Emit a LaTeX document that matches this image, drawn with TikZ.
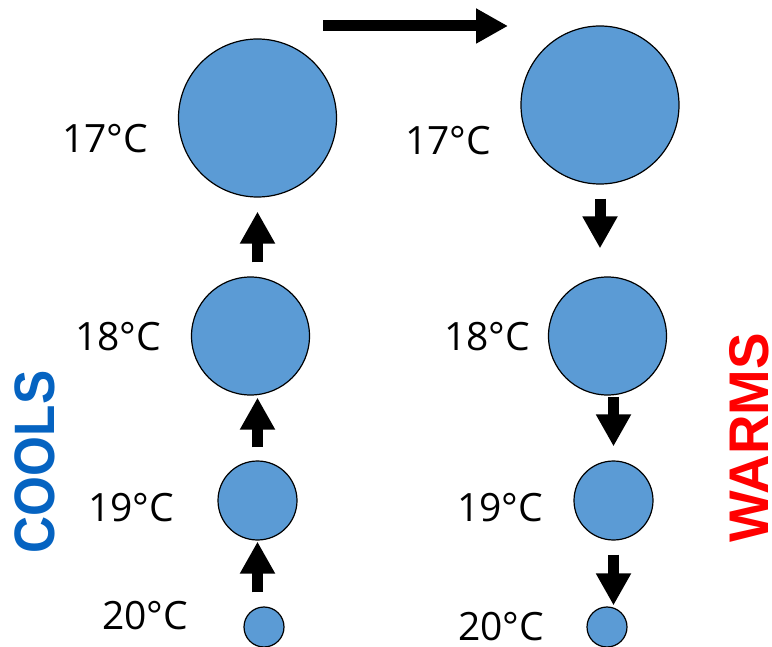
\documentclass[tikz,border=0pt]{standalone}
\usepackage{fontspec}
\setmainfont{Open Sans}
\newfontfamily\boldsans{Liberation Sans}
\usetikzlibrary{arrows.meta}
\definecolor{bubble}{HTML}{5B9BD5}
\definecolor{coolblue}{HTML}{0563C1}
\definecolor{warmred}{HTML}{FF0000}
\begin{document}
\begin{tikzpicture}[x=1pt, y=-1pt,
    bub/.style = {circle, draw=black, line width=1.2pt, fill=bubble, inner sep=0pt},
    temp/.style = {inner sep=0pt, font=\fontsize{39}{39}\selectfont},
    blockarrow/.style = {line width=11pt, -{Triangle[length=32pt,width=33pt]}},
    side/.style = {inner sep=0pt, rotate=90, font=\boldsans\bfseries\fontsize{57}{57}\selectfont}]
    \useasboundingbox (0,0) rectangle (772,647);

    % Circles, left column
    \node (c17l) at (257.5,118) [bub, minimum size=158pt]{};
    \node (c18l) at (250.5,336) [bub, minimum size=118pt]{};
    \node (c19l) at (257.5,500.5) [bub, minimum size=79pt]{};
    \node (c20l) at (264,627) [bub, minimum size=40pt]{};

    % Circles, right column
    \node (c17r) at (600,105) [bub, minimum size=158pt]{};
    \node (c18r) at (607.5,336) [bub, minimum size=118pt]{};
    \node (c19r) at (613.5,500.5) [bub, minimum size=79pt]{};
    \node (c20r) at (607,627) [bub, minimum size=40pt]{};

    % Labels
    \node (t17l) at (105,139) [temp]{17°C};
    \node (t18l) at (118,337) [temp]{18°C};
    \node (t19l) at (131,508) [temp]{19°C};
    \node (t20l) at (145,616) [temp]{20°C};
    \node (t17r) at (448,141) [temp]{17°C};
    \node (t18r) at (487,337) [temp]{18°C};
    \node (t19r) at (500,508) [temp]{19°C};
    \node (t20r) at (501,627) [temp]{20°C};

    \node (cools) at (35,462) [side, text=coolblue]{\scalebox{0.9}[1]{COOLS}};
    \node (warms) at (749,438) [side, text=warmred]{\scalebox{0.96}[0.98]{WARMS}};

    % Arrows
    \coordinate (hstart) at (323,26);
    \coordinate (hend) at (508,26);
    \draw[blockarrow] (hstart) -- (hend);

    \draw[blockarrow, shorten <=14pt, shorten >=14pt] (c18l.north -| c17l.south) -- (c17l.south);
    \draw[blockarrow, shorten <=13pt, shorten >=2pt] (c19l.north) -- (c18l.south -| c19l.north);
    \draw[blockarrow, shorten <=14pt, shorten >=1pt] (c20l.north -| c19l.south) -- (c19l.south);

    \draw[blockarrow, shorten <=14pt, shorten >=28pt] (c17r.south) -- (c18r.north -| c17r.south);
    \draw[blockarrow, shorten <=1pt, shorten >=14pt] (c18r.south -| c19r.north) -- (c19r.north);
    \draw[blockarrow, shorten <=14pt, shorten >=1pt] (c19r.south) -- (c20r.north -| c19r.south);
\end{tikzpicture}
\end{document}
